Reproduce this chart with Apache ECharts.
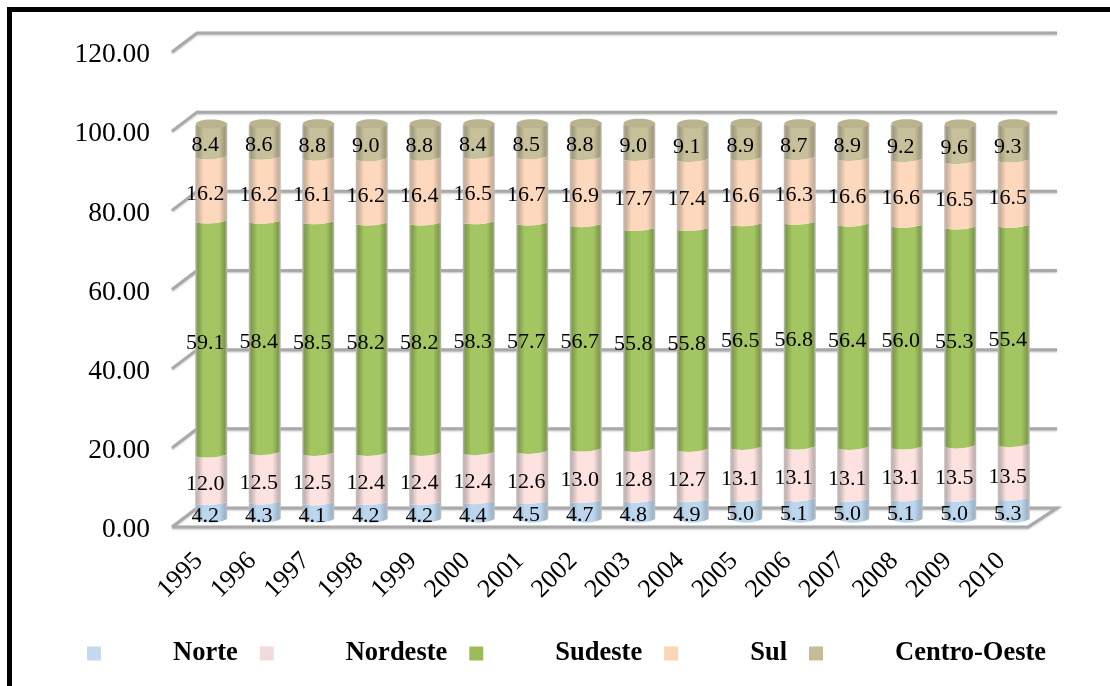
<!DOCTYPE html>
<html>
<head>
<meta charset="utf-8">
<style>html,body{margin:0;padding:0;background:#fff}#chart{width:1110px;height:686px}</style>
<script src="https://cdn.jsdelivr.net/npm/echarts@6/dist/echarts.min.js"></script>
</head>
<body>
<div id="chart"></div>
<script>
// Regional shares by year, percent
const years = ['1995','1996','1997','1998','1999','2000','2001','2002','2003','2004','2005','2006','2007','2008','2009','2010'];
const norte = [4.2,4.3,4.1,4.2,4.2,4.4,4.5,4.7,4.8,4.9,5.0,5.1,5.0,5.1,5.0,5.3];
const nordeste = [12.0,12.5,12.5,12.4,12.4,12.4,12.6,13.0,12.8,12.7,13.1,13.1,13.1,13.1,13.5,13.5];
const sudeste = [59.1,58.4,58.5,58.2,58.2,58.3,57.7,56.7,55.8,55.8,56.5,56.8,56.4,56.0,55.3,55.4];
const sul = [16.2,16.2,16.1,16.2,16.4,16.5,16.7,16.9,17.7,17.4,16.6,16.3,16.6,16.6,16.5,16.5];
const centroOeste = [8.4,8.6,8.8,9.0,8.8,8.4,8.5,8.8,9.0,9.1,8.9,8.7,8.9,9.2,9.6,9.3];
const yTicks = [0,20,40,60,80,100,120];

const FONT = '"Liberation Serif","Times New Roman",serif';
const DEPTH_X = 25, DEPTH_Y = 19;   // oblique offset of the back wall
const RADIUS = 16;                  // cylinder half width
const LIFT = 7.5;                   // cylinders stand part way back on the floor
const WALL = '#a9a9a9';

const regions = [
  {name:'Norte',        values:norte,       legend:'#c6d9f1', edge:'#9db5ca', mid:'#bcd6ee'},
  {name:'Nordeste',     values:nordeste,    legend:'#f2dcdb', edge:'#c7b4b3', mid:'#fde2df'},
  {name:'Sudeste',      values:sudeste,     legend:'#9bbb59', edge:'#7f9b4a', mid:'#a3c562'},
  {name:'Sul',          values:sul,         legend:'#fcd5b5', edge:'#cdb098', mid:'#fdd8bd'},
  {name:'Centro-Oeste', values:centroOeste, legend:'#c4bd97', edge:'#a09a7a', mid:'#c6c09b'}
];

// Running bottom of each stack segment
const running = years.map(() => 0);
const cylinderSeries = regions.map((r, ri) => {
  const rows = r.values.map((v, i) => {
    const base = running[i];
    running[i] = base + v;
    return [i, base, base + v, v];
  });
  const fill = {
    type:'linear', x:0, y:0, x2:1, y2:0,
    colorStops:[
      {offset:0, color:'#bdbdbd'},
      {offset:0.08, color:r.edge},
      {offset:0.26, color:r.mid},
      {offset:0.74, color:r.mid},
      {offset:0.92, color:r.edge},
      {offset:1, color:'#bdbdbd'}
    ]
  };
  return {
    name:r.name,
    type:'custom',
    coordinateSystem:'cartesian2d',
    itemStyle:{color:r.legend},
    clip:false,
    data:rows,
    encode:{x:0, y:[1,2]},
    renderItem:function (params, api) {
      const i = api.value(0);
      const lo = api.coord([i, api.value(1)]);
      const hi = api.coord([i, api.value(2)]);
      const cx = lo[0] + DEPTH_X / 2, yLo = lo[1] - LIFT, yHi = hi[1] - LIFT;
      const l = cx - RADIUS, rgt = cx + RADIUS;
      // Each boundary is a shallow arc, slightly higher on the right
      const lowerArc = ri === 0
        ? `Q ${cx} ${yLo + 7} ${l} ${yLo - 0.5}`
        : `Q ${cx} ${yLo + 4} ${l} ${yLo + 1}`;
      const d = `M ${l} ${yHi + 1} Q ${cx} ${yHi + 4} ${rgt} ${yHi - 1} ` +
                `L ${rgt} ${ri === 0 ? yLo - 0.5 : yLo - 1} ${lowerArc} Z`;
      const children = [{type:'path', shape:{pathData:d}, style:{fill:fill}}];
      if (ri === regions.length - 1) {
        children.push({type:'ellipse', shape:{cx:cx, cy:yHi, rx:RADIUS - 0.5, ry:4.5},
                       style:{fill:'#bab38f'}});
      }
      const value = api.value(3);
      const mid = api.coord([i, (api.value(1) + api.value(2)) / 2]);
      children.push({
        type:'text', z2:100,
        style:{
          text:value.toFixed(1),
          x:mid[0] + 6.5, y:mid[1] - 2.5,
          font:'22px ' + FONT, fill:'#000',
          align:'center', verticalAlign:'middle'
        }
      });
      return {type:'group', children:children};
    }
  };
});

// Back wall gridlines with their oblique returns, plus the floor
const wallSeries = {
  type:'custom',
  coordinateSystem:'cartesian2d',
  silent:true,
  clip:false,
  z:1,
  data:yTicks.map(t => [0, t]),
  encode:{y:1},
  renderItem:function (params, api) {
    const box = params.coordSys;
    const value = api.value(1);
    const y = api.coord([0, value])[1];
    const x0 = box.x, x1 = box.x + box.width;
    const pts = value === 0
      ? [[x0, y], [x0 + DEPTH_X, y - DEPTH_Y], [x1 + DEPTH_X + 4, y - DEPTH_Y], [x1, y], [x0, y]]
      : [[x0, y], [x0 + DEPTH_X, y - DEPTH_Y], [x1 + DEPTH_X + 4, y - DEPTH_Y]];
    return {
      type:'polyline',
      shape:{points:pts},
      style:{stroke:WALL, lineWidth:3, fill:null, shadowColor:'rgba(150,150,150,0.55)', shadowBlur:2, shadowOffsetY:1}
    };
  }
};

const chart = echarts.init(document.getElementById('chart'));
chart.setOption({
  animation:false,
  backgroundColor:'#fff',
  grid:{left:172, right:82, top:52, bottom:159},
  xAxis:{
    type:'category',
    data:years,
    axisLine:{show:false},
    axisTick:{show:false},
    axisLabel:{rotate:45, interval:0, margin:30, fontFamily:FONT, fontSize:26, color:'#000'}
  },
  yAxis:{
    type:'value',
    min:0, max:120, interval:20,
    splitLine:{show:false},
    axisLine:{show:false},
    axisTick:{show:false},
    axisLabel:{
      margin:22, fontFamily:FONT, fontSize:27.5, color:'#000',
      verticalAlign:'bottom', lineHeight:30, padding:[0,0,-18,0],
      formatter:v => v.toFixed(2)
    }
  },
  legend:{
    left:82, top:635,
    icon:'rect',
    itemWidth:14, itemHeight:14, itemGap:22,
    selectedMode:false,
    data:regions.map(r => r.name),
    textStyle:{fontFamily:FONT, fontSize:26.5, fontWeight:'bold', color:'#000', padding:[0,0,0,67]}
  },
  graphic:[
    {type:'polyline', silent:true,
     shape:{points:[[9.5,686],[9.5,9.5],[1110,9.5]]},
     style:{stroke:'#000', lineWidth:5, fill:null, lineJoin:'miter'}}
  ],
  series:[wallSeries].concat(cylinderSeries)
});
</script>
</body>
</html>
